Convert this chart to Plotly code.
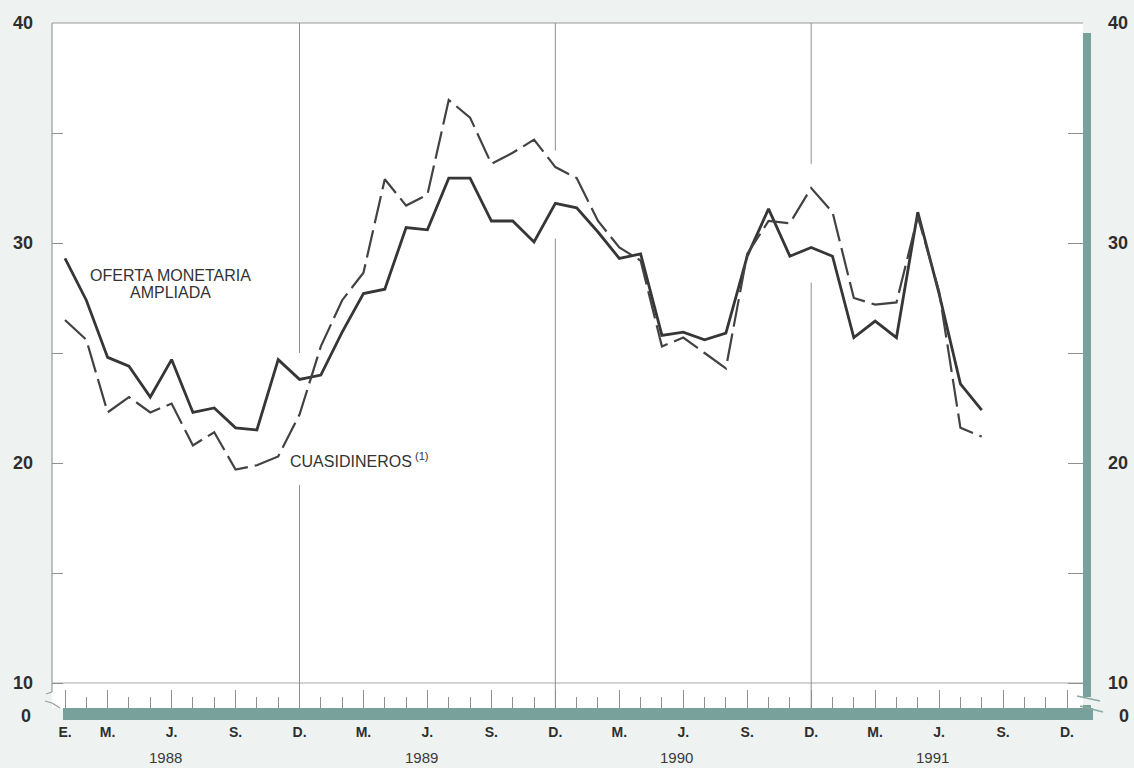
import plotly.graph_objects as go

# ---------------- data (monthly, Jan 1988 .. Aug 1991) ----------------
oferta_monetaria_ampliada = [
    29.3, 27.4, 24.8, 24.4, 23.0, 24.7, 22.3, 22.5, 21.6, 21.5, 24.7, 23.8,
    24.0, 25.95, 27.7, 27.9, 30.7, 30.6, 32.95, 32.95, 31.0, 31.0, 30.05, 31.8,
    31.6, 30.5, 29.3, 29.5, 25.8, 25.95, 25.6, 25.9, 29.4, 31.55, 29.4, 29.8,
    29.4, 25.7, 26.45, 25.7, 31.4, 27.7, 23.6, 22.4,
]
cuasidineros = [
    26.5, 25.6, 22.3, 23.0, 22.3, 22.7, 20.8, 21.4, 19.7, 19.9, 20.3, 22.2,
    25.3, 27.4, 28.65, 32.9, 31.7, 32.2, 36.5, 35.7, 33.6, 34.1, 34.7, 33.45,
    32.95, 31.0, 29.8, 29.2, 25.3, 25.7, 25.0, 24.3, 29.5, 31.0, 30.9, 32.5,
    31.4, 27.5, 27.2, 27.3, 31.2, 27.8, 21.6, 21.2,
]
month_index = list(range(len(oferta_monetaria_ampliada)))  # 0 = Enero 1988

tick_months = [0, 2, 5, 8, 11, 14, 17, 20, 23, 26, 29, 32, 35, 38, 41, 44, 47]
tick_text = ["E.", "M.", "J.", "S.", "D.", "M.", "J.", "S.", "D.",
             "M.", "J.", "S.", "D.", "M.", "J.", "S.", "D."]
minor_months = [m for m in range(48) if m not in tick_months]
years = ["1988", "1989", "1990", "1991"]
year_centers = [4.7, 16.7, 28.7, 40.7]
dec_months = [11, 23, 35]

y_tickvals = [10, 20, 30, 40]
y_ticktext = ["10", "20", "30", "40"]
y_minor_ticks = [15, 25, 35]

# ---------------- geometry helpers (pixel -> paper) ----------------
L, R, T, B = 52, 1083, 23, 708
W, H = R - L, B - T


def px(x):
    return (x - L) / W


def py(y):
    return (B - y) / H


YR = [8.864, 40]
XR = [-0.61, 47.75]
TEAL = "#77a19a"
GRID = "#8f8f8f"
INK = "#2e2e2e"
BG = "#eef3f1"
FONT = "Liberation Sans"

fig = go.Figure()
fig.add_trace(go.Scatter(
    x=month_index, y=oferta_monetaria_ampliada, mode="lines",
    name="OFERTA MONETARIA AMPLIADA",
    line=dict(color="#363636", width=2.8)))
fig.add_trace(go.Scatter(
    x=month_index, y=cuasidineros, mode="lines", name="CUASIDINEROS",
    yaxis="y2", line=dict(color="#424242", width=2.2, dash="28px,7px")))

shapes = []
# frame lines
shapes.append(dict(type="line", xref="paper", yref="paper", x0=0, x1=1, y0=1, y1=1,
                   line=dict(color="#9a9a9a", width=1.2), layer="below"))
shapes.append(dict(type="line", xref="paper", yref="paper", x0=0, x1=0, y0=py(692), y1=1,
                   line=dict(color="#9a9a9a", width=1.2), layer="below"))
# left axis break
for (xa, ya, xb, yb) in [(52, 692, 46, 694), (45, 701, 52, 703), (52, 703, 60, 708)]:
    shapes.append(dict(type="line", xref="paper", yref="paper",
                       x0=px(xa), y0=py(ya), x1=px(xb), y1=py(yb),
                       line=dict(color="#9a9a9a", width=1.2)))
# horizontal reference line at 10
shapes.append(dict(type="line", xref="paper", yref="y", x0=0, x1=1, y0=10, y1=10,
                   line=dict(color="#a8a8a8", width=1), layer="below"))
# December vertical lines (interrupted where the curves pass)
dec_segments = {11: [(40, 25.0), (19.0, YR[0])],
                23: [(40, 34.2), (30.2, YR[0])],
                35: [(40, 33.6), (28.2, YR[0])]}
for m in dec_months:
    for (ya, yb) in dec_segments[m]:
        shapes.append(dict(type="line", xref="x", yref="y", x0=m, x1=m, y0=ya, y1=yb,
                           line=dict(color=GRID, width=1), layer="below"))
# teal frame bars
shapes.append(dict(type="rect", xref="paper", yref="paper",
                   x0=px(1083), x1=px(1091), y0=py(697), y1=py(33),
                   fillcolor=TEAL, line=dict(width=0), layer="above"))
shapes.append(dict(type="rect", xref="paper", yref="paper",
                   x0=px(1083), x1=px(1091), y0=py(720), y1=py(705),
                   fillcolor=TEAL, line=dict(width=0), layer="above"))
shapes.append(dict(type="rect", xref="paper", yref="paper",
                   x0=px(63), x1=px(1093), y0=py(720), y1=py(708),
                   fillcolor=TEAL, line=dict(width=0), layer="above"))
# right axis break marks
for (xa, ya, xb, yb) in [(1077, 696, 1100, 701), (1080, 706, 1103, 712)]:
    shapes.append(dict(type="line", xref="paper", yref="paper",
                       x0=px(xa), y0=py(ya), x1=px(xb), y1=py(yb),
                       line=dict(color="#8aa9a4", width=1.5)))

label_font = dict(family=FONT, size=16, color="#333333")
annotations = [
    dict(text="OFERTA MONETARIA", xref="paper", yref="paper", x=px(170), y=py(275),
         showarrow=False, xanchor="center", yanchor="middle", font=label_font),
    dict(text="AMPLIADA", xref="paper", yref="paper", x=px(170), y=py(292),
         showarrow=False, xanchor="center", yanchor="middle", font=label_font),
    dict(text="CUASIDINEROS<sup> (1)</sup>", xref="paper", yref="paper", x=px(288), y=py(460),
         showarrow=False, xanchor="left", yanchor="middle", font=label_font),
    dict(text="0", xref="paper", yref="paper", x=px(33), y=py(716), showarrow=False,
         xanchor="right", yanchor="middle",
         font=dict(family=FONT, size=18, color=INK, weight="bold")),
    dict(text="0", xref="paper", yref="paper", x=px(1131), y=py(716), showarrow=False,
         xanchor="right", yanchor="middle",
         font=dict(family=FONT, size=18, color=INK, weight="bold")),
]
for yr, xc in zip(years, year_centers):
    annotations.append(dict(text=yr, xref="x", yref="paper", x=xc, y=py(757),
                            showarrow=False, xanchor="center", yanchor="middle",
                            font=dict(family=FONT, size=15, color="#3a3a3a")))

yfont = dict(family=FONT, size=18, color=INK, weight="bold")
ymin = dict(tickmode="array", tickvals=y_minor_ticks, ticks="inside",
            tickwidth=1, tickcolor=GRID, showgrid=False)
fig.update_layout(
    width=1134, height=768, autosize=False,
    margin=dict(l=L, r=1134 - R, t=T, b=768 - B, autoexpand=False),
    paper_bgcolor=BG, plot_bgcolor="#ffffff",
    showlegend=False,
    xaxis=dict(range=XR, tickmode="array", tickvals=tick_months, ticktext=tick_text,
               ticks="inside", ticklen=18, tickwidth=1, tickcolor=GRID,
               showgrid=False, zeroline=False, showline=False, automargin=False,
               ticklabelstandoff=14,
               tickfont=dict(family=FONT, size=14, color=INK, weight="bold"),
               minor=dict(tickmode="array", tickvals=minor_months, ticks="inside",
                          ticklen=11, tickwidth=1, tickcolor=GRID, showgrid=False)),
    yaxis=dict(range=YR, tickmode="array", tickvals=y_tickvals, ticktext=y_ticktext,
               ticks="inside", ticklen=11, tickwidth=1, tickcolor=GRID,
               showgrid=False, zeroline=False, showline=False, automargin=False,
               ticklabelstandoff=18, tickfont=yfont,
               minor=dict(ymin, ticklen=11)),
    yaxis2=dict(range=YR, overlaying="y", side="right", anchor="x",
                tickmode="array", tickvals=y_tickvals, ticktext=y_ticktext,
                ticks="inside", ticklen=15, tickwidth=1, tickcolor=GRID,
                showgrid=False, zeroline=False, showline=False, automargin=False,
                ticklabelstandoff=24, tickfont=yfont,
                minor=dict(ymin, ticklen=15)),
    shapes=shapes,
    annotations=annotations,
)

fig.write_html(
    "out.html",
    config={"displayModeBar": False},
    post_script="document.body.style.margin='0';"
                "document.body.style.background='" + BG + "';",
)
